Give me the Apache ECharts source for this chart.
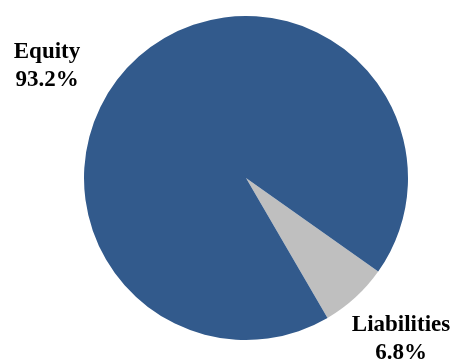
<!DOCTYPE html>
<html><head><meta charset="utf-8">
<script src="https://cdn.jsdelivr.net/npm/echarts@6/dist/echarts.min.js"></script>
<style>html,body{margin:0;padding:0;background:#fff}#c{width:453px;height:360px}</style>
</head><body><div id="c"></div>
<script>
const categories = ['Liabilities', 'Equity'];
const values = [6.8, 93.2];
const colors = ['#BFBFBF', '#325A8C'];
const labelPos = [[401, 339], [47, 66]];

const chart = echarts.init(document.getElementById('c'), null, {renderer: 'canvas'});
chart.setOption({
  animation: false,
  series: [{
    type: 'pie',
    center: [246, 178],
    radius: [0, 162],
    startAngle: -35.3,
    clockwise: true,
    data: categories.map((n, i) => ({name: n, value: values[i], itemStyle: {color: colors[i]}})),
    label: {
      show: true,
      position: 'outside',
      overflow: 'none',
      formatter: p => p.name + '\n' + p.value.toFixed(1) + '%',
      fontFamily: '"Liberation Serif", "Times New Roman", serif',
      fontWeight: 'bold',
      fontSize: 23,
      lineHeight: 28,
      color: '#000',
      align: 'center'
    },
    labelLine: {show: false},
    labelLayout: function (params) {
      const p = labelPos[params.dataIndex];
      return {x: p[0], y: p[1], align: 'center', verticalAlign: 'middle'};
    }
  }]
});
</script></body></html>
